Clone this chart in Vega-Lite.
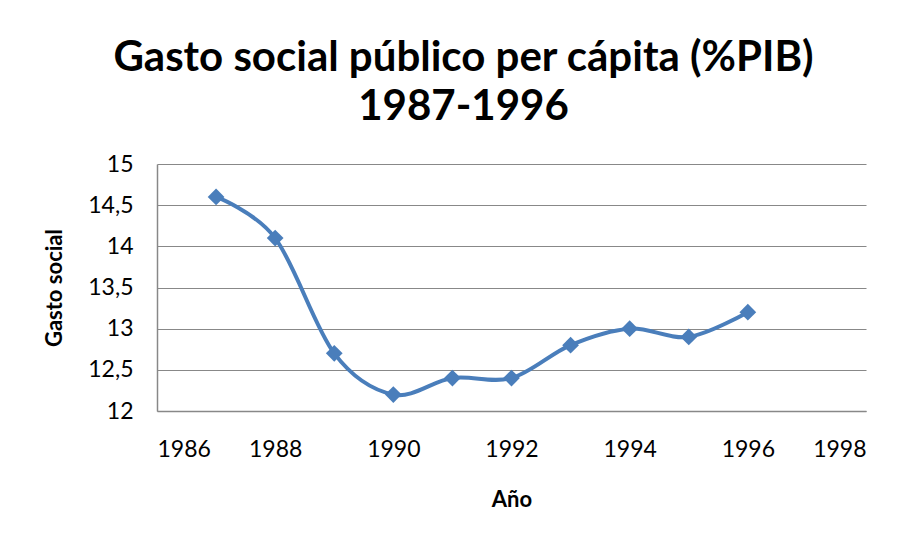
{
  "$schema": "https://vega.github.io/schema/vega-lite/v6.json",
  "width": 709,
  "height": 247,
  "autosize": {"type": "none"},
  "padding": {"left": 157, "top": 164, "right": 47, "bottom": 132},
  "background": "white",
  "title": {
    "text": ["Gasto social público per cápita (%PIB)", "1987-1996"],
    "font": "Lato",
    "fontSize": 42,
    "fontWeight": "bold",
    "color": "#000000",
    "lineHeight": 49,
    "anchor": "middle",
    "dx": -48,
    "offset": 24
  },
  "data": {
    "values": [
      {"year": 1987, "value": 14.6},
      {"year": 1988, "value": 14.1},
      {"year": 1989, "value": 12.7},
      {"year": 1990, "value": 12.2},
      {"year": 1991, "value": 12.4},
      {"year": 1992, "value": 12.4},
      {"year": 1993, "value": 12.8},
      {"year": 1994, "value": 13.0},
      {"year": 1995, "value": 12.9},
      {"year": 1996, "value": 13.2}
    ]
  },
  "encoding": {
    "x": {
      "field": "year",
      "type": "quantitative",
      "scale": {"domain": [1986, 1998], "nice": false, "zero": false},
      "axis": {
        "title": "Año",
        "values": [1986, 1988, 1990, 1992, 1994, 1996, 1998],
        "format": "d",
        "grid": false,
        "ticks": false,
        "labelPadding": 27,
        "titlePadding": 28
      }
    },
    "y": {
      "field": "value",
      "type": "quantitative",
      "scale": {"domain": [12, 15], "nice": false, "zero": false},
      "axis": {
        "title": "Gasto social",
        "values": [12, 12.5, 13, 13.5, 14, 14.5, 15],
        "labelExpr": "replace(toString(datum.value), '.', ',')",
        "grid": true,
        "ticks": false,
        "labelPadding": 24,
        "titlePadding": 21
      }
    }
  },
  "layer": [
    {
      "mark": {"type": "line", "interpolate": "cardinal", "tension": 0, "color": "#4A7EBB", "strokeWidth": 4}
    },
    {
      "mark": {"type": "point", "shape": "diamond", "filled": true, "color": "#4A7EBB", "opacity": 1, "size": 280}
    }
  ],
  "config": {
    "view": {"stroke": null},
    "axis": {
      "labelFont": "Lato",
      "labelFontSize": 23,
      "labelColor": "#000000",
      "titleFont": "Lato",
      "titleFontSize": 22,
      "titleFontWeight": "bold",
      "titleColor": "#000000",
      "domainColor": "#888888",
      "domainWidth": 1.5,
      "gridColor": "#888888",
      "gridWidth": 1.2
    }
  }
}
